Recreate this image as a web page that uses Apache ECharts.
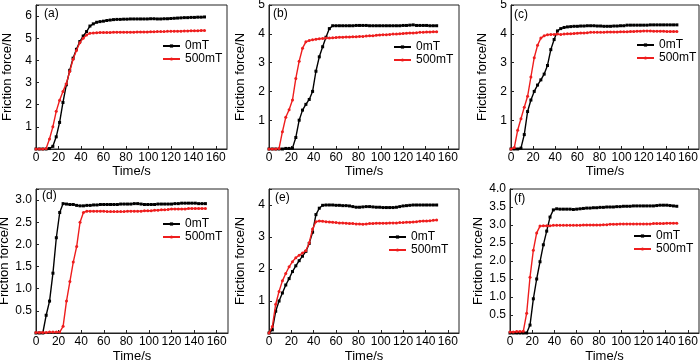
<!DOCTYPE html>
<html>
<head>
<meta charset="utf-8">
<script src="https://cdn.jsdelivr.net/npm/echarts@6/dist/echarts.min.js"></script>
<style>
  html, body { margin: 0; padding: 0; background: #fff; }
  #chart { width: 700px; height: 361px; }
</style>
</head>
<body>
<div id="chart"></div>
<script>
// time axis, s
const time = [0, 3, 6, 9, 12, 15, 18, 21, 24, 27, 30, 33, 36, 39, 42, 45, 48, 51, 54, 57, 60, 63, 66, 69, 72, 75, 78, 81, 84, 87, 90, 93, 96, 99, 102, 105, 108, 111, 114, 117, 120, 123, 126, 129, 132, 135, 138, 141, 144, 147, 150];
const xTicks = [0, 20, 40, 60, 80, 100, 120, 140, 160];
const seriesNames = ['0mT', '500mT'];
const panelLabels = ['(a)', '(b)', '(c)', '(d)', '(e)', '(f)'];

// friction force, N
const a0mT = [0, 0, 0, 0, 0.02, 0.12, 0.55, 1.2, 2.1, 2.9, 3.55, 4.1, 4.5, 4.85, 5.1, 5.3, 5.55, 5.65, 5.72, 5.75, 5.77, 5.8, 5.82, 5.84, 5.85, 5.85, 5.86, 5.86, 5.87, 5.87, 5.87, 5.87, 5.87, 5.87, 5.88, 5.88, 5.87, 5.87, 5.88, 5.88, 5.89, 5.9, 5.91, 5.92, 5.93, 5.93, 5.94, 5.94, 5.95, 5.95, 5.96];
const a500mT = [0, 0, 0, 0.02, 0.45, 1.0, 1.7, 2.2, 2.6, 2.95, 3.5, 4.05, 4.45, 4.8, 5.0, 5.15, 5.22, 5.24, 5.25, 5.26, 5.26, 5.26, 5.26, 5.27, 5.27, 5.27, 5.27, 5.27, 5.27, 5.27, 5.28, 5.28, 5.28, 5.28, 5.29, 5.29, 5.3, 5.3, 5.3, 5.31, 5.31, 5.32, 5.32, 5.32, 5.33, 5.33, 5.34, 5.34, 5.34, 5.35, 5.35];

const b0mT = [0, 0, 0, 0, 0, 0.02, 0.02, 0.03, 0.4, 1.0, 1.35, 1.55, 1.72, 2.0, 2.7, 3.2, 3.55, 3.88, 4.18, 4.28, 4.28, 4.28, 4.28, 4.28, 4.28, 4.28, 4.29, 4.29, 4.29, 4.29, 4.28, 4.28, 4.28, 4.28, 4.28, 4.28, 4.28, 4.28, 4.28, 4.28, 4.29, 4.29, 4.3, 4.31, 4.29, 4.29, 4.29, 4.29, 4.28, 4.28, 4.28];
const b500mT = [0, 0, 0, 0.02, 0.6, 1.1, 1.36, 1.7, 2.45, 3.05, 3.5, 3.72, 3.77, 3.79, 3.81, 3.83, 3.84, 3.85, 3.85, 3.86, 3.87, 3.88, 3.88, 3.89, 3.89, 3.9, 3.9, 3.91, 3.91, 3.92, 3.93, 3.93, 3.95, 3.96, 3.97, 3.97, 3.98, 3.99, 3.99, 4.0, 4.01, 4.02, 4.03, 4.03, 4.04, 4.05, 4.05, 4.06, 4.06, 4.07, 4.07];

const c0mT = [0, 0, 0, 0.03, 0.5, 1.3, 1.7, 2.0, 2.22, 2.4, 2.6, 2.9, 3.45, 3.8, 4.1, 4.18, 4.22, 4.24, 4.25, 4.26, 4.26, 4.27, 4.27, 4.28, 4.28, 4.28, 4.27, 4.27, 4.26, 4.26, 4.26, 4.27, 4.27, 4.28, 4.28, 4.3, 4.3, 4.3, 4.3, 4.3, 4.3, 4.3, 4.31, 4.31, 4.31, 4.31, 4.31, 4.31, 4.31, 4.31, 4.31];
const c500mT = [0, 0.05, 0.65, 1.05, 1.45, 1.83, 2.5, 3.17, 3.6, 3.85, 3.93, 3.97, 3.98, 3.98, 3.99, 3.98, 3.99, 4.0, 4.0, 4.01, 4.02, 4.03, 4.03, 4.04, 4.05, 4.05, 4.05, 4.05, 4.05, 4.06, 4.06, 4.06, 4.06, 4.07, 4.07, 4.07, 4.08, 4.08, 4.09, 4.09, 4.1, 4.1, 4.1, 4.09, 4.09, 4.09, 4.09, 4.08, 4.08, 4.08, 4.08];

const d0mT = [0, 0, 0, 0.4, 0.72, 1.35, 2.15, 2.72, 2.92, 2.91, 2.9, 2.9, 2.88, 2.87, 2.87, 2.88, 2.88, 2.89, 2.89, 2.9, 2.9, 2.9, 2.9, 2.9, 2.9, 2.91, 2.91, 2.91, 2.91, 2.92, 2.92, 2.91, 2.9, 2.9, 2.9, 2.9, 2.91, 2.91, 2.91, 2.91, 2.91, 2.92, 2.92, 2.93, 2.93, 2.93, 2.93, 2.93, 2.92, 2.92, 2.92];
const d500mT = [0.01, 0.01, 0.01, 0.01, 0.02, 0.02, 0.02, 0.02, 0.15, 0.72, 1.16, 1.6, 1.95, 2.5, 2.72, 2.75, 2.75, 2.75, 2.75, 2.75, 2.75, 2.74, 2.74, 2.74, 2.74, 2.74, 2.74, 2.75, 2.75, 2.75, 2.75, 2.75, 2.76, 2.76, 2.76, 2.77, 2.77, 2.78, 2.78, 2.79, 2.8, 2.8, 2.8, 2.8, 2.8, 2.81, 2.81, 2.81, 2.81, 2.81, 2.81];

const e0mT = [0, 0.1, 0.68, 1.0, 1.25, 1.5, 1.7, 1.92, 2.1, 2.26, 2.4, 2.55, 2.8, 3.15, 3.7, 3.9, 3.99, 4.0, 4.0, 4.0, 3.99, 3.99, 3.98, 3.98, 3.97, 3.95, 3.93, 3.93, 3.94, 3.95, 3.95, 3.94, 3.93, 3.93, 3.92, 3.92, 3.92, 3.92, 3.93, 3.95, 3.97, 3.98, 3.99, 4.0, 4.0, 4.0, 4.0, 4.0, 4.0, 4.0, 4.0];
const e500mT = [0, 0.2, 0.9, 1.3, 1.63, 1.86, 2.07, 2.23, 2.35, 2.43, 2.5, 2.57, 2.82, 3.25, 3.48, 3.5, 3.49, 3.48, 3.47, 3.46, 3.45, 3.44, 3.44, 3.43, 3.42, 3.42, 3.41, 3.41, 3.4, 3.41, 3.42, 3.42, 3.43, 3.43, 3.43, 3.43, 3.44, 3.44, 3.44, 3.45, 3.45, 3.46, 3.46, 3.47, 3.48, 3.49, 3.5, 3.5, 3.51, 3.52, 3.53];

const f0mT = [0, 0, 0, 0, 0, 0, 0.22, 0.95, 1.5, 1.98, 2.45, 2.83, 3.22, 3.42, 3.45, 3.44, 3.44, 3.44, 3.44, 3.43, 3.44, 3.45, 3.46, 3.47, 3.47, 3.48, 3.48, 3.49, 3.49, 3.5, 3.5, 3.5, 3.51, 3.51, 3.52, 3.52, 3.52, 3.53, 3.53, 3.53, 3.53, 3.53, 3.53, 3.53, 3.54, 3.55, 3.55, 3.55, 3.54, 3.53, 3.52];
const f500mT = [0.03, 0.03, 0.04, 0.04, 0.05, 0.55, 1.55, 2.3, 2.78, 2.97, 2.98, 2.98, 2.98, 2.99, 2.99, 2.99, 2.99, 2.99, 2.99, 2.99, 2.99, 2.99, 3.0, 3.0, 3.0, 3.0, 3.0, 3.0, 3.01, 3.01, 3.02, 3.02, 3.02, 3.03, 3.03, 3.03, 3.03, 3.03, 3.03, 3.03, 3.03, 3.03, 3.03, 3.04, 3.04, 3.04, 3.04, 3.05, 3.05, 3.05, 3.05];

// y axis ranges per panel
const yMax = [6.5, 5, 5, 3.25, 4.5, 4];
const yStep = [1, 1, 1, 0.5, 1, 0.5];

const panelData = [[a0mT, a500mT], [b0mT, b500mT], [c0mT, c500mT], [d0mT, d500mT], [e0mT, e500mT], [f0mT, f500mT]];

// layout (px)
const layout = [
  { left: 36, top: 5, width: 191, height: 144, legend: [162, 40], label: [44, 8], nameGap: 16 },
  { left: 269, top: 5, width: 190, height: 144, legend: [393, 41], label: [273, 8], nameGap: 16 },
  { left: 511, top: 5, width: 188, height: 144, legend: [636, 39], label: [514, 9], nameGap: 16 },
  { left: 36, top: 189, width: 192, height: 144, legend: [162, 218], label: [42, 190], nameGap: 17 },
  { left: 269, top: 189, width: 190, height: 144, legend: [388, 231], label: [275, 192], nameGap: 17 },
  { left: 510, top: 189, width: 189, height: 144, legend: [633, 230], label: [514, 193], nameGap: 17 }
];

const font = "'Liberation Sans', Arial, sans-serif";
const lineColor = ['#000000', '#ee1d1d'];
const axisColor = '#222';

const pairs = (ys) => time.map((t, i) => [t, ys[i]]);

const grid = [], xAxis = [], yAxis = [], series = [], legend = [], title = [];

layout.forEach((p, i) => {
  grid.push({
    left: p.left, top: p.top, width: p.width, height: p.height,
    show: true, borderColor: axisColor, borderWidth: 1,
    outerBoundsMode: 'none'
  });
  xAxis.push({
    type: 'value', gridIndex: i, min: 0, max: 170, interval: 20,
    name: 'Time/s', nameLocation: 'middle', nameGap: p.nameGap,
    nameTextStyle: { fontSize: 13, fontFamily: font, color: '#000' },
    axisLine: { lineStyle: { color: axisColor, width: 1 } },
    axisTick: { inside: true, length: 3, lineStyle: { color: axisColor } },
    axisLabel: {
      margin: 3, fontSize: 12, fontFamily: font, color: '#000',
      showMaxLabel: false,
      formatter: v => xTicks.indexOf(v) >= 0 ? String(v) : ''
    },
    splitLine: { show: false }
  });
  const step = yStep[i];
  yAxis.push({
    type: 'value', gridIndex: i, min: 0, max: yMax[i], interval: step,
    name: 'Friction force/N', nameLocation: 'middle', nameGap: 22,
    nameTextStyle: { fontSize: 13, fontFamily: font, color: '#000' },
    axisLine: { lineStyle: { color: axisColor, width: 1 } },
    axisTick: { inside: true, length: 3, lineStyle: { color: axisColor } },
    axisLabel: {
      margin: 4, fontSize: 12, fontFamily: font, color: '#000',
      showMinLabel: false,
      formatter: v => {
        const k = v / step;
        if (v === 0 || Math.abs(k - Math.round(k)) > 1e-6) return '';
        return step < 1 ? v.toFixed(1) : String(v);
      }
    },
    splitLine: { show: false }
  });
  panelData[i].forEach((ys, s) => {
    series.push({
      name: seriesNames[s], type: 'line', xAxisIndex: i, yAxisIndex: i,
      data: pairs(ys),
      symbol: s === 0 ? 'rect' : 'circle',
      symbolSize: 3,
      showSymbol: true,
      lineStyle: { color: lineColor[s], width: 1.4 },
      itemStyle: { color: lineColor[s] },
      z: 2 + s
    });
  });
  legend.push({
    data: seriesNames, orient: 'vertical',
    left: p.legend[0], top: p.legend[1],
    itemWidth: 17, itemHeight: 4, itemGap: 1, padding: 0,
    textStyle: { fontSize: 12, fontFamily: font, color: '#000' }
  });
  title.push({
    text: panelLabels[i], left: p.label[0], top: p.label[1], padding: 0,
    textStyle: { fontSize: 12, fontWeight: 'normal', fontFamily: font, color: '#000' }
  });
});

const chart = echarts.init(document.getElementById('chart'));
chart.setOption({
  animation: false,
  backgroundColor: '#fff',
  title, grid, xAxis, yAxis, legend, series
});
</script>
</body>
</html>
